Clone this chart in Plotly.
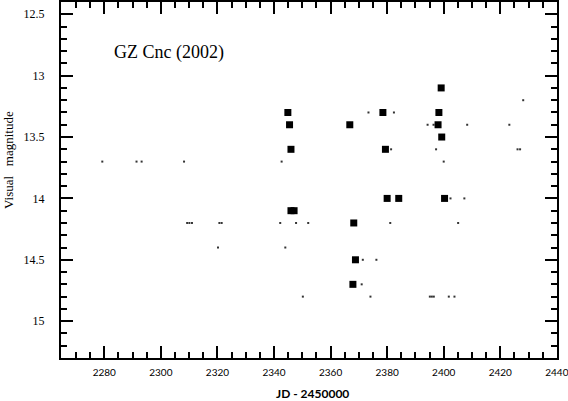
import plotly.graph_objects as go

# visual estimates (big squares), JD - 2450000 and magnitude
obs_jd = [2344.9, 2345.5, 2346.0, 2346.0, 2347.1, 2366.8, 2368.2, 2368.8, 2367.9,
          2378.5, 2379.4, 2380.0, 2384.1, 2398.3, 2398.0, 2399.1, 2399.3, 2400.3]
obs_mag = [13.3, 13.4, 13.6, 14.1, 14.1, 13.4, 14.2, 14.5, 14.7,
           13.3, 13.6, 14.0, 14.0, 13.3, 13.4, 13.1, 13.5, 14.0]

# fainter-than observations (small dots)
lim_jd = [2428.1,
          2373.4, 2382.4,
          2394.3, 2396.4, 2408.3, 2423.2,
          2381.4, 2397.3, 2426.1, 2427.0,
          2279.3, 2291.4, 2293.2, 2308.2, 2342.7, 2400.0,
          2402.4, 2407.3,
          2309.3, 2310.1, 2311.0, 2320.7, 2321.5, 2342.2, 2347.8, 2352.1, 2381.1, 2405.1,
          2320.2, 2344.0,
          2371.4, 2376.2,
          2371.0,
          2350.2, 2374.1, 2395.1, 2395.8, 2396.5, 2401.8, 2403.8]
lim_mag = [13.2,
           13.3, 13.3,
           13.4, 13.4, 13.4, 13.4,
           13.6, 13.6, 13.6, 13.6,
           13.7, 13.7, 13.7, 13.7, 13.7, 13.7,
           14.0, 14.0,
           14.2, 14.2, 14.2, 14.2, 14.2, 14.2, 14.2, 14.2, 14.2, 14.2,
           14.4, 14.4,
           14.5, 14.5,
           14.7,
           14.8, 14.8, 14.8, 14.8, 14.8, 14.8, 14.8]

x_ticks = [2280, 2300, 2320, 2340, 2360, 2380, 2400, 2420, 2440]
y_ticks = [12.5, 13, 13.5, 14, 14.5, 15]

fig = go.Figure()

fig.add_trace(go.Scatter(
    x=lim_jd, y=lim_mag, mode='markers',
    marker=dict(symbol='square', size=2, color='#333333', line=dict(width=0)),
    showlegend=False
))
fig.add_trace(go.Scatter(
    x=obs_jd, y=obs_mag, mode='markers',
    marker=dict(symbol='square', size=7, color='black', line=dict(width=0)),
    showlegend=False
))

# star name label
fig.add_annotation(
    text='GZ Cnc (2002)', xref='paper', yref='paper',
    x=0.103, y=0.857, xanchor='left', yanchor='middle', showarrow=False,
    font=dict(family='Liberation Serif', size=18, color='black')
)
# axis titles as annotations for exact placement
fig.add_annotation(
    text='<b>JD - 2450000</b>', xref='paper', yref='paper',
    x=0.508, y=0, xanchor='center', yanchor='middle', yshift=-35, showarrow=False,
    font=dict(family='Lato', size=12, color='black')
)
fig.add_annotation(
    text='Visual&nbsp;&nbsp;&nbsp;magnitude', xref='paper', yref='paper',
    x=0, y=0.556, xanchor='center', yanchor='middle', xshift=-53, textangle=-90,
    showarrow=False, font=dict(family='Liberation Serif', size=13, color='black')
)

fig.update_layout(
    width=568, height=401,
    margin=dict(l=61, r=11, t=2, b=43),
    plot_bgcolor='white', paper_bgcolor='white',
    xaxis=dict(
        range=[2264.7, 2440.05], tickvals=x_ticks, automargin=False,
        showgrid=False, zeroline=False,
        showline=True, linecolor='black', linewidth=2, mirror='allticks',
        ticks='inside', ticklen=12, tickwidth=2, tickcolor='black',
        minor=dict(ticks='inside', ticklen=6, tickwidth=2, dtick=5, tickcolor='black', showgrid=False),
        tickfont=dict(family='Lato', size=10, color='black'),
        ticklabelstandoff=4, ticklabeloverflow='allow',
    ),
    yaxis=dict(
        range=[15.3, 12.4], tickvals=y_ticks, automargin=False,
        showgrid=False, zeroline=False,
        showline=True, linecolor='black', linewidth=2, mirror='allticks',
        ticks='inside', ticklen=12, tickwidth=2, tickcolor='black',
        minor=dict(ticks='inside', ticklen=6, tickwidth=2, dtick=0.1, tickcolor='black', showgrid=False),
        tickfont=dict(family='Liberation Serif', size=12, color='black'),
        ticklabelstandoff=12,
    ),
)

# drop the page's default body margin so the figure fills the window
fig.write_html("out.html", config={'displayModeBar': False},
               post_script="document.body.style.margin='0';")
